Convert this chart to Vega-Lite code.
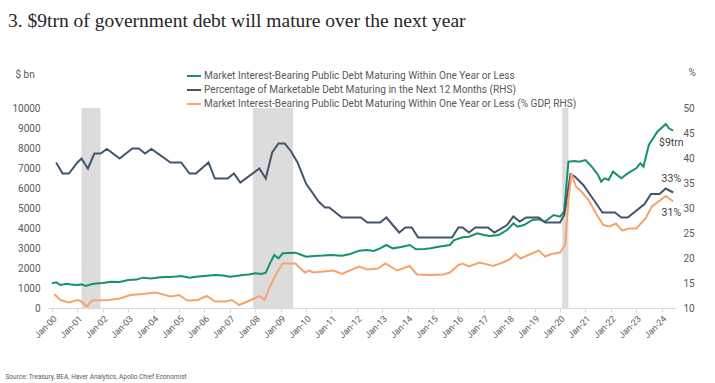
{
  "$schema": "https://vega.github.io/schema/vega-lite/v6.json",
  "width": 628,
  "height": 200,
  "autosize": {"type": "none"},
  "padding": {"left": 48, "top": 108, "right": 39, "bottom": 75},
  "background": "white",
  "title": {
    "text": "3. $9trn of government debt will mature over the next year",
    "anchor": "start",
    "frame": "group",
    "dx": -40,
    "offset": 36,
    "font": "Liberation Serif",
    "fontSize": 19.5,
    "fontWeight": "normal",
    "color": "#262626"
  },
  "config": {
    "view": {"stroke": null},
    "font": "Roboto",
    "axis": {"grid": false, "labelOverlap": false, "labelColor": "#595959", "titleColor": "#595959", "titleFontWeight": "normal", "labelFont": "Roboto", "titleFont": "Roboto"},
    "legend": {"labelFont": "Roboto"}
  },
  "datasets": {
    "recessions": [
      {"start": "2001-03-01", "end": "2001-11-30"},
      {"start": "2007-12-01", "end": "2009-06-30"},
      {"start": "2020-02-01", "end": "2020-04-30"}
    ],
    "debt": [
      {"date": "2000-01-01", "value": 1230}, {"date": "2000-03-01", "value": 1280}, {"date": "2000-05-01", "value": 1150},
      {"date": "2000-08-01", "value": 1210}, {"date": "2000-10-01", "value": 1170}, {"date": "2001-01-01", "value": 1150},
      {"date": "2001-03-01", "value": 1180}, {"date": "2001-05-01", "value": 1100}, {"date": "2001-08-01", "value": 1200},
      {"date": "2001-10-01", "value": 1230}, {"date": "2002-01-01", "value": 1250}, {"date": "2002-05-01", "value": 1317},
      {"date": "2002-09-01", "value": 1300}, {"date": "2003-01-01", "value": 1400}, {"date": "2003-05-01", "value": 1420},
      {"date": "2003-08-01", "value": 1517}, {"date": "2003-12-01", "value": 1480}, {"date": "2004-04-01", "value": 1533},
      {"date": "2004-08-01", "value": 1550}, {"date": "2004-12-01", "value": 1570}, {"date": "2005-02-01", "value": 1600},
      {"date": "2005-06-01", "value": 1517}, {"date": "2005-09-01", "value": 1560}, {"date": "2006-01-01", "value": 1600},
      {"date": "2006-06-01", "value": 1650}, {"date": "2006-10-01", "value": 1630}, {"date": "2007-01-01", "value": 1567},
      {"date": "2007-04-01", "value": 1600}, {"date": "2007-07-01", "value": 1650}, {"date": "2007-10-01", "value": 1680},
      {"date": "2008-01-01", "value": 1733}, {"date": "2008-04-01", "value": 1700}, {"date": "2008-06-01", "value": 1767},
      {"date": "2008-08-01", "value": 2233}, {"date": "2008-10-01", "value": 2650}, {"date": "2008-12-01", "value": 2483},
      {"date": "2009-02-01", "value": 2733}, {"date": "2009-05-01", "value": 2750}, {"date": "2009-08-01", "value": 2767},
      {"date": "2009-11-01", "value": 2650}, {"date": "2010-01-01", "value": 2567}, {"date": "2010-05-01", "value": 2600},
      {"date": "2010-09-01", "value": 2620}, {"date": "2011-01-01", "value": 2650}, {"date": "2011-06-01", "value": 2617},
      {"date": "2011-10-01", "value": 2700}, {"date": "2012-02-01", "value": 2867}, {"date": "2012-06-01", "value": 2900},
      {"date": "2012-09-01", "value": 2850}, {"date": "2012-12-01", "value": 2983}, {"date": "2013-03-01", "value": 3150},
      {"date": "2013-06-01", "value": 2983}, {"date": "2013-10-01", "value": 3050}, {"date": "2014-02-01", "value": 3150},
      {"date": "2014-05-01", "value": 2933}, {"date": "2014-09-01", "value": 2950}, {"date": "2014-12-01", "value": 2983},
      {"date": "2015-03-01", "value": 3050}, {"date": "2015-06-01", "value": 3100}, {"date": "2015-09-01", "value": 3150},
      {"date": "2015-11-01", "value": 3400}, {"date": "2016-03-01", "value": 3533}, {"date": "2016-06-01", "value": 3567},
      {"date": "2016-10-01", "value": 3733}, {"date": "2017-01-01", "value": 3650}, {"date": "2017-04-01", "value": 3600},
      {"date": "2017-08-01", "value": 3650}, {"date": "2017-12-01", "value": 3900}, {"date": "2018-03-01", "value": 4233},
      {"date": "2018-05-01", "value": 4067}, {"date": "2018-08-01", "value": 4150}, {"date": "2018-12-01", "value": 4400},
      {"date": "2019-03-01", "value": 4433}, {"date": "2019-06-01", "value": 4317}, {"date": "2019-10-01", "value": 4650},
      {"date": "2020-01-01", "value": 4567}, {"date": "2020-03-01", "value": 4817}, {"date": "2020-05-01", "value": 7317},
      {"date": "2020-08-01", "value": 7350}, {"date": "2020-10-01", "value": 7317}, {"date": "2021-01-01", "value": 7400},
      {"date": "2021-04-01", "value": 7067}, {"date": "2021-07-01", "value": 6650}, {"date": "2021-08-15", "value": 6317},
      {"date": "2021-10-01", "value": 6483}, {"date": "2021-12-01", "value": 6400}, {"date": "2022-02-01", "value": 6817},
      {"date": "2022-06-01", "value": 6483}, {"date": "2022-09-01", "value": 6733}, {"date": "2023-01-01", "value": 6983},
      {"date": "2023-03-01", "value": 7233}, {"date": "2023-04-15", "value": 7067}, {"date": "2023-07-01", "value": 8150},
      {"date": "2023-11-01", "value": 8817}, {"date": "2024-03-01", "value": 9200}, {"date": "2024-04-15", "value": 8983},
      {"date": "2024-06-15", "value": 8867}
    ],
    "share": [
      {"date": "2000-03-01", "value": 39.1}, {"date": "2000-06-01", "value": 36.9}, {"date": "2000-09-01", "value": 36.9},
      {"date": "2001-01-01", "value": 39.1}, {"date": "2001-03-01", "value": 39.9}, {"date": "2001-06-01", "value": 37.9},
      {"date": "2001-09-01", "value": 40.9}, {"date": "2001-12-01", "value": 40.9}, {"date": "2002-03-01", "value": 41.8},
      {"date": "2002-09-01", "value": 39.9}, {"date": "2003-03-01", "value": 41.9}, {"date": "2003-06-01", "value": 41.9},
      {"date": "2003-09-01", "value": 40.9}, {"date": "2003-12-01", "value": 41.8}, {"date": "2004-09-01", "value": 39.1},
      {"date": "2005-02-01", "value": 39.1}, {"date": "2005-06-01", "value": 36.9}, {"date": "2005-09-01", "value": 36.9},
      {"date": "2006-03-01", "value": 39.1}, {"date": "2006-06-01", "value": 35.9}, {"date": "2006-12-01", "value": 35.9},
      {"date": "2007-03-01", "value": 36.9}, {"date": "2007-06-01", "value": 35.1}, {"date": "2008-03-01", "value": 37.9},
      {"date": "2008-06-01", "value": 35.9}, {"date": "2008-09-01", "value": 41.1}, {"date": "2008-12-01", "value": 42.9},
      {"date": "2009-03-01", "value": 42.9}, {"date": "2009-06-01", "value": 41.3}, {"date": "2009-09-01", "value": 39.1},
      {"date": "2010-01-01", "value": 34.9}, {"date": "2010-07-01", "value": 31.3}, {"date": "2010-10-01", "value": 30.1},
      {"date": "2010-12-01", "value": 30.1}, {"date": "2011-06-01", "value": 28.1}, {"date": "2012-03-01", "value": 28.1},
      {"date": "2012-06-01", "value": 27.1}, {"date": "2012-12-01", "value": 27.1}, {"date": "2013-03-01", "value": 28.1},
      {"date": "2013-09-01", "value": 25.1}, {"date": "2013-12-01", "value": 26.1}, {"date": "2014-03-01", "value": 26.1},
      {"date": "2014-06-01", "value": 24.1}, {"date": "2015-10-01", "value": 24.1}, {"date": "2016-01-01", "value": 26.1},
      {"date": "2016-03-01", "value": 26.1}, {"date": "2016-06-01", "value": 25.1}, {"date": "2016-09-01", "value": 26.1},
      {"date": "2017-03-01", "value": 26.1}, {"date": "2017-06-01", "value": 25.1}, {"date": "2017-12-01", "value": 26.6},
      {"date": "2018-03-01", "value": 28.3}, {"date": "2018-06-01", "value": 27.3}, {"date": "2018-09-01", "value": 28.1},
      {"date": "2019-03-01", "value": 28.1}, {"date": "2019-06-01", "value": 27.1}, {"date": "2020-01-01", "value": 27.1},
      {"date": "2020-03-01", "value": 28.6}, {"date": "2020-06-01", "value": 36.8}, {"date": "2020-08-01", "value": 36.3},
      {"date": "2020-12-01", "value": 34.6}, {"date": "2021-05-01", "value": 31.6}, {"date": "2021-09-01", "value": 29.1},
      {"date": "2022-03-01", "value": 29.1}, {"date": "2022-06-01", "value": 28.1}, {"date": "2022-09-01", "value": 28.1},
      {"date": "2023-05-01", "value": 30.8}, {"date": "2023-08-01", "value": 32.8}, {"date": "2023-12-01", "value": 32.8},
      {"date": "2024-03-01", "value": 33.9}, {"date": "2024-06-15", "value": 33.1}
    ],
    "gdp": [
      {"date": "2000-02-01", "value": 12.8}, {"date": "2000-05-01", "value": 11.6}, {"date": "2000-09-01", "value": 11.1},
      {"date": "2001-01-01", "value": 11.6}, {"date": "2001-03-01", "value": 11.3}, {"date": "2001-05-15", "value": 10.3},
      {"date": "2001-08-01", "value": 11.5}, {"date": "2002-04-01", "value": 11.6}, {"date": "2002-09-01", "value": 11.9},
      {"date": "2003-02-01", "value": 12.6}, {"date": "2003-08-01", "value": 12.8}, {"date": "2004-02-01", "value": 13.1},
      {"date": "2004-09-01", "value": 12.3}, {"date": "2005-01-01", "value": 12.6}, {"date": "2005-05-01", "value": 11.5},
      {"date": "2005-10-01", "value": 11.6}, {"date": "2006-02-01", "value": 12.4}, {"date": "2006-06-01", "value": 11.3},
      {"date": "2006-11-01", "value": 11.3}, {"date": "2007-02-01", "value": 11.6}, {"date": "2007-05-15", "value": 10.6},
      {"date": "2007-11-01", "value": 11.6}, {"date": "2008-03-01", "value": 12.4}, {"date": "2008-05-15", "value": 11.6},
      {"date": "2008-08-01", "value": 14.3}, {"date": "2008-11-01", "value": 16.9}, {"date": "2009-02-01", "value": 18.9},
      {"date": "2009-08-01", "value": 18.9}, {"date": "2009-09-15", "value": 18.3}, {"date": "2009-12-15", "value": 17.1},
      {"date": "2010-02-15", "value": 17.5}, {"date": "2010-04-15", "value": 17.1}, {"date": "2011-02-01", "value": 17.5},
      {"date": "2011-06-01", "value": 16.8}, {"date": "2012-02-01", "value": 18.3}, {"date": "2012-06-01", "value": 17.7},
      {"date": "2012-11-01", "value": 17.9}, {"date": "2013-02-15", "value": 18.9}, {"date": "2013-08-01", "value": 17.5},
      {"date": "2014-02-01", "value": 18.4}, {"date": "2014-05-15", "value": 16.7}, {"date": "2014-12-01", "value": 16.6},
      {"date": "2015-06-01", "value": 16.7}, {"date": "2015-09-01", "value": 17.1}, {"date": "2016-01-01", "value": 18.6},
      {"date": "2016-03-01", "value": 18.9}, {"date": "2016-06-01", "value": 18.3}, {"date": "2016-11-01", "value": 19.1},
      {"date": "2017-05-15", "value": 18.4}, {"date": "2017-10-01", "value": 19.1}, {"date": "2018-01-15", "value": 19.8},
      {"date": "2018-04-01", "value": 20.8}, {"date": "2018-06-15", "value": 19.9}, {"date": "2018-09-15", "value": 20.5},
      {"date": "2018-12-15", "value": 21.0}, {"date": "2019-03-01", "value": 21.5}, {"date": "2019-06-01", "value": 20.3},
      {"date": "2019-09-01", "value": 20.8}, {"date": "2020-01-01", "value": 21.1}, {"date": "2020-03-15", "value": 22.6},
      {"date": "2020-05-01", "value": 31.6}, {"date": "2020-06-15", "value": 36.9}, {"date": "2020-08-15", "value": 34.3},
      {"date": "2020-10-15", "value": 33.6}, {"date": "2021-02-15", "value": 31.6}, {"date": "2021-06-15", "value": 28.6},
      {"date": "2021-09-15", "value": 26.6}, {"date": "2021-12-15", "value": 26.3}, {"date": "2022-03-15", "value": 26.9},
      {"date": "2022-06-15", "value": 25.5}, {"date": "2022-09-15", "value": 25.9}, {"date": "2023-01-01", "value": 25.9},
      {"date": "2023-05-15", "value": 27.9}, {"date": "2023-08-15", "value": 30.3}, {"date": "2024-03-01", "value": 32.4},
      {"date": "2024-06-15", "value": 31.3}
    ],
    "note_left": [{"date": "2024-05-20", "value": 8250, "label": "$9trn"}],
    "note_right": [
      {"date": "2024-05-20", "value": 35.8, "label": "33%"},
      {"date": "2024-05-20", "value": 29.0, "label": "31%"}
    ]
  },
  "layer": [
    {
      "layer": [
        {
          "data": {"name": "recessions"},
          "mark": {"type": "rect", "color": "#dcdcdc"},
          "encoding": {
            "x": {
              "field": "start", "type": "temporal",
              "scale": {"domain": [{"year": 1999, "month": 11, "date": 5}, {"year": 2024, "month": 7, "date": 26}]},
              "axis": {
                "format": "%b-%y",
                "tickCount": {"interval": "year", "step": 1},
                "labelAngle": -45,
                "labelFontSize": 9,
                "labelPadding": 2,
                "labelOverlap": false,
                "domainColor": "#d9d9d9",
                "tickColor": "#d9d9d9",
                "tickSize": 4,
                "title": "Source: Treasury, BEA, Haver Analytics, Apollo Chief Economist",
                "titleFontSize": 6.5,
                "titleAnchor": "start",
                "titleAlign": "left",
                "titleBaseline": "middle",
                "titleX": -43,
                "titleY": 68
              }
            },
            "x2": {"field": "end"}
          }
        },
        {
          "data": {"name": "debt"},
          "mark": {"type": "line", "strokeWidth": 2},
          "encoding": {
            "x": {"field": "date", "type": "temporal"},
            "y": {
              "field": "value", "type": "quantitative",
              "scale": {"domain": [0, 10000], "nice": false},
              "axis": {
                "values": [0, 1000, 2000, 3000, 4000, 5000, 6000, 7000, 8000, 9000, 10000],
                "tickCount": 11,
                "labelOverlap": false,
                "labelBound": false,
                "format": "d",
                "domain": false,
                "ticks": false,
                "labelPadding": 8,
                "labelFontSize": 10,
                "title": "$ bn",
                "titleAngle": 0,
                "titleAlign": "left",
                "titleBaseline": "middle",
                "titleFontSize": 10,
                "titleX": -33,
                "titleY": -34
              }
            },
            "color": {
              "datum": "Market Interest-Bearing Public Debt Maturing Within One Year or Less",
              "scale": {
                "domain": [
                  "Market Interest-Bearing Public Debt Maturing Within One Year or Less",
                  "Percentage of Marketable Debt Maturing in the Next 12 Months (RHS)",
                  "Market Interest-Bearing Public Debt Maturing Within One Year or Less (% GDP, RHS)"
                ],
                "range": ["#16916a", "#44546a", "#f4a46c"]
              },
              "legend": {
                "title": null,
                "orient": "none",
                "legendX": 138,
                "legendY": -40,
                "symbolType": "stroke",
                "symbolSize": 196,
                "symbolStrokeWidth": 2,
                "labelFontSize": 10.1,
                "labelColor": "#595959",
                "labelLimit": 500,
                "labelOffset": 2,
                "rowPadding": 0,
                "padding": 0
              }
            }
          }
        },
        {
          "data": {"name": "note_left"},
          "mark": {"type": "text", "fontSize": 10.5, "color": "#404040", "align": "center", "baseline": "middle"},
          "encoding": {
            "x": {"field": "date", "type": "temporal"},
            "y": {"field": "value", "type": "quantitative"},
            "text": {"field": "label"}
          }
        }
      ]
    },
    {
      "layer": [
        {
          "data": {"name": "share"},
          "mark": {"type": "line", "strokeWidth": 2},
          "encoding": {
            "x": {"field": "date", "type": "temporal"},
            "y": {
              "field": "value", "type": "quantitative",
              "scale": {"domain": [10, 50], "nice": false},
              "axis": {
                "orient": "right",
                "values": [10, 15, 20, 25, 30, 35, 40, 45, 50],
                "tickCount": 9,
                "labelOverlap": false,
                "labelBound": false,
                "domain": false,
                "ticks": false,
                "labelPadding": 7,
                "labelFontSize": 10,
                "title": "%",
                "titleAngle": 0,
                "titleAlign": "left",
                "titleBaseline": "middle",
                "titleFontSize": 10,
                "titleX": 12,
                "titleY": -36
              }
            },
            "color": {"datum": "Percentage of Marketable Debt Maturing in the Next 12 Months (RHS)"}
          }
        },
        {
          "data": {"name": "gdp"},
          "mark": {"type": "line", "strokeWidth": 2},
          "encoding": {
            "x": {"field": "date", "type": "temporal"},
            "y": {"field": "value", "type": "quantitative"},
            "color": {"datum": "Market Interest-Bearing Public Debt Maturing Within One Year or Less (% GDP, RHS)"}
          }
        },
        {
          "data": {"name": "note_right"},
          "mark": {"type": "text", "fontSize": 10.5, "color": "#404040", "align": "center", "baseline": "middle"},
          "encoding": {
            "x": {"field": "date", "type": "temporal"},
            "y": {"field": "value", "type": "quantitative"},
            "text": {"field": "label"}
          }
        }
      ]
    }
  ],
  "resolve": {"scale": {"y": "independent"}}
}
